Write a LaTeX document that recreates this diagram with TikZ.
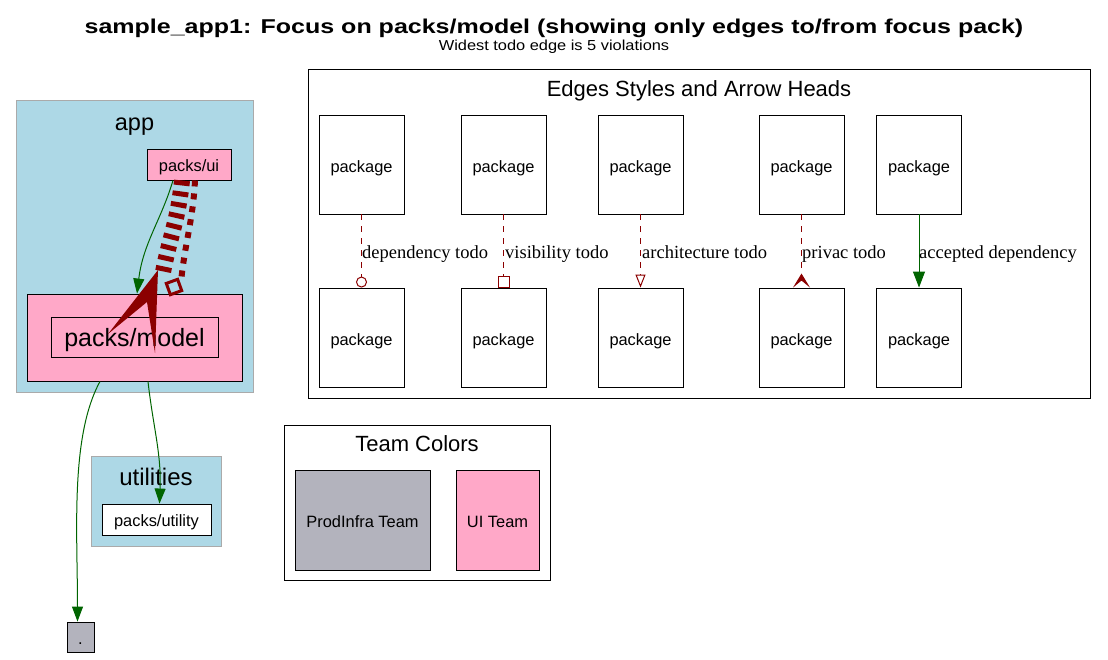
\documentclass[tikz,border=0pt]{standalone}
\usepackage{fontspec}
\usepackage{graphicx}
\setmainfont{Liberation Sans}
\newfontfamily\serifL{Liberation Serif}
\usetikzlibrary{arrows.meta}
\definecolor{clusterblue}{HTML}{ADD8E6}
\definecolor{uipink}{HTML}{FFA8C8}
\definecolor{infragray}{HTML}{B3B3BD}
\definecolor{todored}{HTML}{8B0000}
\definecolor{okgreen}{HTML}{006400}
\definecolor{clusterborder}{HTML}{AAAAAA}
\begin{document}
\begin{tikzpicture}[x=1pt,y=-1pt,
  fs/.style={font=\fontsize{#1}{#1}\selectfont},
  cluster/.style={draw=clusterborder, fill=clusterblue, line width=1pt, inner sep=0pt},
  legendbox/.style={draw=black, fill=white, line width=0.9pt, inner sep=0pt},
  pkg/.style={draw=black, line width=0.9pt, inner sep=0pt, fs=16.4, text height=14.5pt, text depth=0pt},
  title/.style={inner sep=0pt, anchor=base},
  okedge/.style={draw=okgreen, line width=1pt, -{Triangle[length=15pt,width=11pt]}},
  todoedge/.style={draw=todored, line width=1pt, dash pattern=on 6pt off 6pt},
  elabel/.style={inner sep=0pt, anchor=base west, font=\serifL\fontsize{18.5}{18.5}\selectfont},
]
\useasboundingbox (0,0) rectangle (1108,659);

% titles
\node[title, font=\bfseries\fontsize{20}{20}\selectfont] (maintitle) at (554,33) {\scalebox{1.25}[1]{sample\_app1: Focus on packs/model (showing only edges to/from focus pack)}};
\node[title, fs=14.5] (subtitle) at (554,50.5) {\scalebox{1.13}[1]{Widest todo edge is 5 violations}};

% app cluster
\node[cluster, minimum width=237pt, minimum height=292pt] (app) at (134.5,246) {};
\node[title, fs=23.5] (applabel) at (134.5,130) {app};
\node[pkg, fill=uipink, minimum width=84pt, minimum height=31pt] (ui) at (189,164.5) {packs/ui};
\node[pkg, fill=uipink, minimum width=215pt, minimum height=87pt] (modelouter) at (134.5,337.5) {};
\node[pkg, fill=uipink, minimum width=167pt, minimum height=40pt, fs=25, text height=19pt] (modelinner) at (134.5,337) {packs/model};

% utilities cluster
\node[cluster, minimum width=130pt, minimum height=90pt] (utilities) at (156,501) {};
\node[title, fs=24] (utillabel) at (156,485) {utilities};
\node[pkg, fill=white, minimum width=109pt, minimum height=31pt] (utility) at (156.5,519.5) {packs/utility};

% root package
\node[pkg, fill=infragray, minimum width=27pt, minimum height=30pt] (dot) at (80.5,637) {.};

% edges in app
\draw[okedge] ([xshift=-16pt]ui.south) .. controls +(-12,40) and +(6,-50) .. ([xshift=2.5pt]modelouter.north);
\draw[draw=todored, line width=6pt, dash pattern=on 6pt off 7pt] ([xshift=6pt]ui.south) .. controls +(-2,40) and +(4,-40) .. (181,282) coordinate (bend2);
\draw[draw=todored, line width=3pt, rotate around={20:(174,287)}] (168,281) rectangle (180,293);
\draw[draw=todored, line width=16pt, dash pattern=on 5pt off 6pt] ([xshift=-7pt]ui.south) .. controls +(-4,40) and +(8,-40) .. (163,272) coordinate (bend1);
\fill[todored] (158,270) -- (108,334) -- (147,302) -- (155,353) -- cycle;

% edges out of model
\draw[okedge] ([xshift=-34.5pt]modelouter.south) .. controls +(-30,55) and +(0,-90) .. ([xshift=-3pt]dot.north);
\draw[okedge] ([xshift=13.5pt]modelouter.south) .. controls +(5,45) and +(2,-50) .. ([xshift=3pt]utility.north);

% legend
\node[legendbox, minimum width=782pt, minimum height=329pt] (legend) at (699,233.5) {};
\node[title, fs=22] (legendtitle) at (699,96) {Edges Styles and Arrow Heads};
\foreach \i/\x in {1/361.5,2/503.5,3/640.5,4/801.5,5/919} {
  \node[pkg, fill=white, minimum width=85pt, minimum height=99pt, text height=16pt] (top\i) at (\x,164.5) {package};
  \node[pkg, fill=white, minimum width=85pt, minimum height=99pt, text height=16pt] (bot\i) at (\x,337.5) {package};
}
\draw[todoedge, -{Circle[open,length=11pt,width=11pt]}] (top1) -- (bot1);
\draw[todoedge, -{Square[open,length=12pt,width=12pt]}] (top2) -- (bot2);
\draw[todoedge, -{Triangle[open,length=13pt,width=10pt]}] (top3) -- (bot3);
\draw[todoedge, -{Stealth[reversed,length=14pt,width=17pt,inset=7pt]}] (top4) -- (bot4);
\draw[okedge, -{Triangle[length=16pt,width=12pt]}] (top5) -- (bot5);
\node[elabel] (lab1) at (362,258) {dependency todo};
\node[elabel] (lab2) at (505,258) {visibility todo};
\node[elabel] (lab3) at (642,258) {architecture todo};
\node[elabel] (lab4) at (802,258) {privac todo};
\node[elabel] (lab5) at (919,258) {accepted dependency};

% team colors
\node[legendbox, minimum width=266pt, minimum height=155pt] (team) at (417,502.5) {};
\node[title, fs=22] (teamtitle) at (417,451) {Team Colors};
\node[pkg, fill=infragray, minimum width=135pt, minimum height=100pt] (prodinfra) at (362.5,520) {ProdInfra Team};
\node[pkg, fill=uipink, minimum width=83pt, minimum height=100pt] (uiteam) at (497.5,520) {UI Team};
\end{tikzpicture}
\end{document}
